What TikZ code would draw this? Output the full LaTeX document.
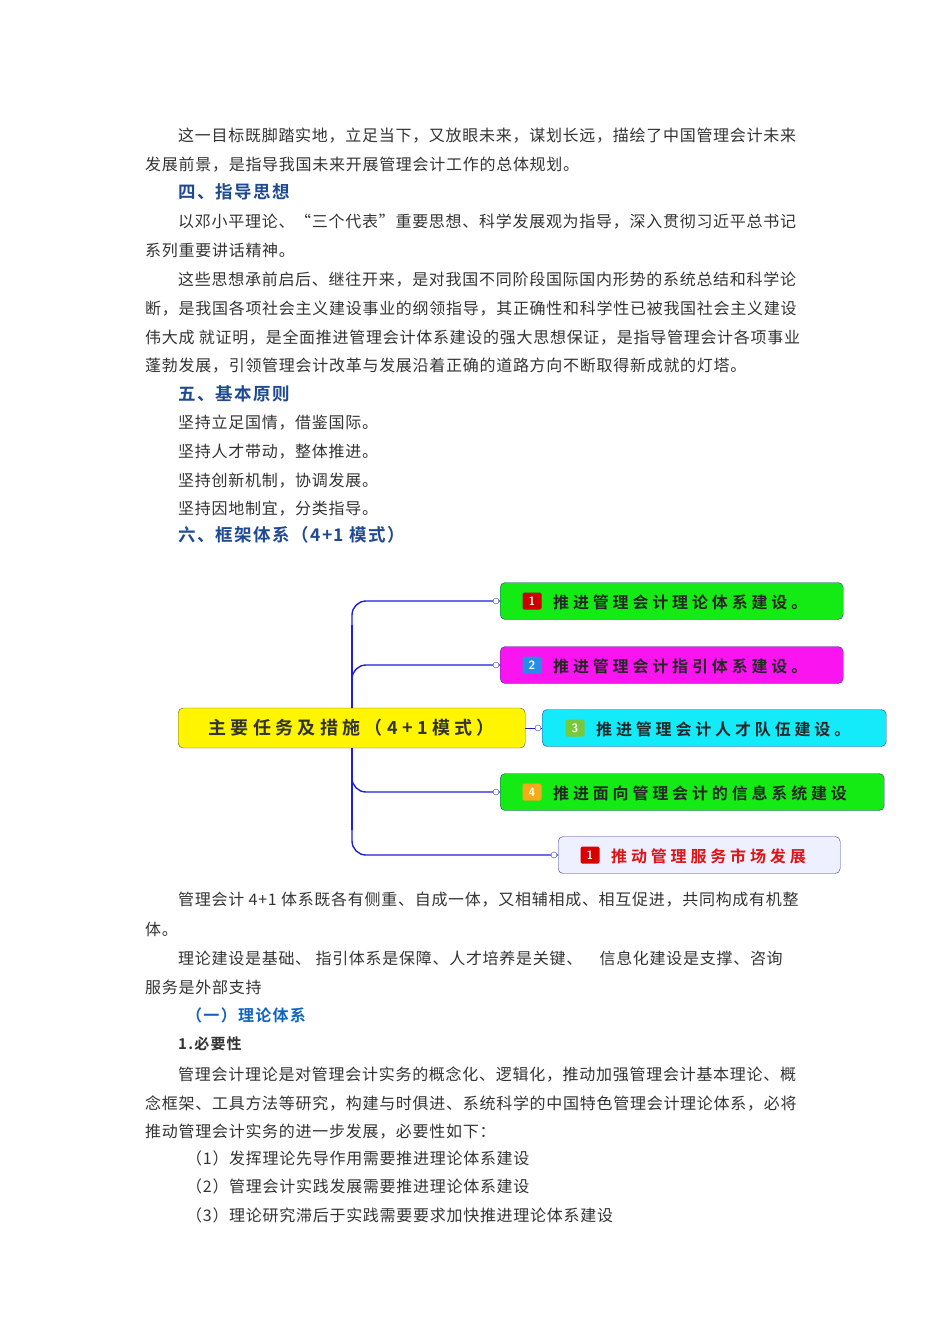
\documentclass[tikz,border=0pt]{standalone}
\usepackage{fontspec}
\setmainfont{Noto Sans CJK SC}
\newfontfamily\cjk[LetterSpace=4.5]{Noto Sans CJK SC}
\newfontfamily\cjkb[LetterSpace=8]{Noto Sans CJK SC Bold}
\newfontfamily\cjkd[LetterSpace=24]{Noto Sans CJK SC Bold}
\begin{document}
\begin{tikzpicture}[x=1pt,y=-1pt,
 txt/.style={anchor=base west,inner sep=0,font=\cjk\fontsize{16}{16}\selectfont,text=black!80},
 hd/.style={anchor=base west,inner sep=0,font=\cjkb\fontsize{17.5}{17.5}\selectfont,text={rgb,255:red,31;green,73;blue,145}},
 leaf/.style={draw={rgb,255:red,60;green,60;blue,150},rounded corners=5pt,minimum height=37pt,anchor=west,inner sep=0},
 ltxt/.style={anchor=west,inner sep=0,font=\cjkd\fontsize{16}{16}\selectfont,text=black!85},
 conn/.style={draw={rgb,255:red,30;green,30;blue,220},line width=1.4pt,rounded corners=14pt},
 dot/.style={circle,draw={rgb,255:red,60;green,60;blue,200},fill=white,inner sep=0,minimum size=6pt},
 ic/.style={rounded corners=1.5pt,inner sep=0,minimum width=19pt,minimum height=17pt,text=white,font=\sffamily\bfseries\fontsize{12}{12}\selectfont}]
\useasboundingbox (0,0) rectangle (950,1344);
\node[txt] (l1) at (178,141) {这一目标既脚踏实地，立足当下，又放眼未来，谋划长远，描绘了中国管理会计未来};
\node[txt] (l2) at (145,170) {发展前景，是指导我国未来开展管理会计工作的总体规划。};
\node[hd] (h4) at (178,198) {四、指导思想};
\node[txt] (l3) at (178,227) {以邓小平理论、“三个代表”重要思想、科学发展观为指导，深入贯彻习近平总书记};
\node[txt] (l4) at (145,256) {系列重要讲话精神。};
\node[txt] (l5) at (178,285) {这些思想承前启后、继往开来，是对我国不同阶段国际国内形势的系统总结和科学论};
\node[txt] (l6) at (145,314) {断，是我国各项社会主义建设事业的纲领指导，其正确性和科学性已被我国社会主义建设};
\node[txt] (l7) at (145,343) {伟大成\ 就证明，是全面推进管理会计体系建设的强大思想保证，是指导管理会计各项事业};
\node[txt] (l8) at (145,371) {蓬勃发展，引领管理会计改革与发展沿着正确的道路方向不断取得新成就的灯塔。};
\node[hd] (h5) at (178,400) {五、基本原则};
\node[txt] (p1) at (178,428) {坚持立足国情，借鉴国际。};
\node[txt] (p2) at (178,457) {坚持人才带动，整体推进。};
\node[txt] (p3) at (178,486) {坚持创新机制，协调发展。};
\node[txt] (p4) at (178,514) {坚持因地制宜，分类指导。};
\node[hd] (h6) at (178,541) {六、框架体系（4+1 模式）};
% diagram
\node[draw={rgb,255:red,90;green,90;blue,90},fill={rgb,255:red,255;green,245;blue,0},rounded corners=5pt,minimum width=347pt,minimum height=40pt,anchor=west,inner sep=0,font=\cjkd\fontsize{18}{18}\selectfont,text=black!80] (c) at (178,728) {主要任务及措施（4+1模式）};
\node[leaf,fill={rgb,255:red,20;green,235;blue,20},minimum width=343pt] (a1) at (500,601) {};
\node[leaf,fill={rgb,255:red,250;green,20;blue,240},minimum width=343pt] (a2) at (500,665) {};
\node[leaf,fill={rgb,255:red,20;green,235;blue,250},minimum width=344pt] (a3) at (542,728) {};
\node[leaf,fill={rgb,255:red,20;green,235;blue,20},minimum width=384pt] (a4) at (500,792) {};
\node[leaf,fill={rgb,255:red,238;green,240;blue,255},minimum width=282pt] (a5) at (558,855) {};
\node[ic,fill=red!80!black] (i1) at (532,601) {1};
\node[ltxt] (t1) at (553,602) {推进管理会计理论体系建设。};
\node[ic,fill={rgb,255:red,40;green,140;blue,230}] (i2) at (532,665) {2};
\node[ltxt] (t2) at (553,666) {推进管理会计指引体系建设。};
\node[ic,fill={rgb,255:red,120;green,200;blue,60}] (i3) at (575,728) {3};
\node[ltxt] (t3) at (596,729) {推进管理会计人才队伍建设。};
\node[ic,fill={rgb,255:red,245;green,170;blue,30}] (i4) at (532,792) {4};
\node[ltxt] (t4) at (553,793) {推进面向管理会计的信息系统建设};
\node[ic,fill=red!85!black] (i5) at (590,855) {1};
\node[ltxt,text={rgb,255:red,220;green,20;blue,20}] (t5) at (611,856) {推动管理服务市场发展};
\coordinate (top) at (352,708);
\coordinate (bot) at (352,748);
\draw[conn,line width=2.6pt] (top) -- (352,625);
\draw[conn,line width=2.6pt] (bot) -- (352,830);
\draw[conn] (top) -- (352,601) -- (a1.west);
\draw[conn] (top) -- (352,665) -- (a2.west);
\draw[conn] (bot) -- (352,792) -- (a4.west);
\draw[conn] (bot) -- (352,855) -- (a5.west);
\draw[draw={rgb,255:red,30;green,30;blue,220},line width=1pt] (c.east) -- (a3.west);
\node[dot] at ([xshift=-4pt]a1.west) {};
\node[dot] at ([xshift=-4pt]a2.west) {};
\node[dot] at ([xshift=-4pt]a3.west) {};
\node[dot] at ([xshift=-4pt]a4.west) {};
\node[dot] at ([xshift=-4pt]a5.west) {};
% bottom text
\node[txt] (b1) at (178,905) {管理会计 4+1 体系既各有侧重、自成一体，又相辅相成、相互促进，共同构成有机整};
\node[txt] (b2) at (145,935) {体。};
\node[txt] (b3) at (178,964) {理论建设是基础、\ 指引体系是保障、人才培养是关键、\ \ \ \ 信息化建设是支撑、咨询};
\node[txt] (b4) at (145,993) {服务是外部支持};
\node[hd,font=\cjkb\fontsize{16}{16}\selectfont,text={rgb,255:red,20;green,100;blue,190}] (h7) at (186,1021) {（一）理论体系};
\node[txt,font=\cjkb\fontsize{15}{15}\selectfont] (h8) at (178,1049) {1.必要性};
\node[txt] (c1) at (178,1080) {管理会计理论是对管理会计实务的概念化、逻辑化，推动加强管理会计基本理论、概};
\node[txt] (c2) at (145,1109) {念框架、工具方法等研究，构建与时俱进、系统科学的中国特色管理会计理论体系，必将};
\node[txt] (c3) at (145,1137) {推动管理会计实务的进一步发展，必要性如下：};
\node[txt] (c4) at (186,1164) {（1）发挥理论先导作用需要推进理论体系建设};
\node[txt] (c5) at (186,1192) {（2）管理会计实践发展需要推进理论体系建设};
\node[txt] (c6) at (186,1221) {（3）理论研究滞后于实践需要要求加快推进理论体系建设};
\end{tikzpicture}
\end{document}
